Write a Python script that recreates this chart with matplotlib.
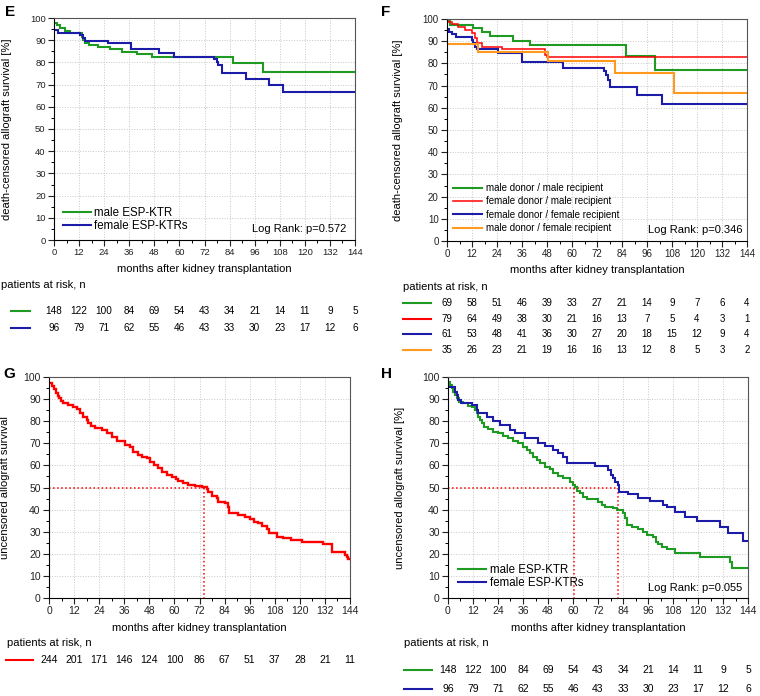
import matplotlib
matplotlib.use('Agg')

import matplotlib.pyplot as plt
import matplotlib.transforms as mtransforms
from matplotlib.lines import Line2D
from matplotlib.ticker import MultipleLocator

plt.rcParams['font.family'] = ['Liberation Sans', 'DejaVu Sans']

# ---------------- data ----------------
months = [0, 12, 24, 36, 48, 60, 72, 84, 96, 108, 120, 132, 144]

# E: death-censored, by recipient sex
e_male_t = [0, 1.3, 2.9, 5.3, 7.7, 13.2, 14, 14.8, 16.9, 21.2, 27, 32.4, 39.5, 46.7, 85.8, 99.8, 144]
e_male_s = [97.9, 96.8, 95.3, 94.3, 93.4, 91.6, 90, 88.6, 87.8, 86.8, 85.9, 84.8, 83.8, 82.6, 79.6, 75.5, 75.5]
e_female_t = [0, 2, 12.4, 14, 15, 26, 37, 50, 57.4, 76.5, 77.8, 78.6, 80.2, 92, 103, 109.7, 144]
e_female_s = [94.6, 93.3, 92.3, 91, 89.8, 88.6, 85.9, 84.4, 82.6, 81.4, 80.3, 78.8, 75.1, 72.4, 69.7, 66.8, 66.8]
e_risk_male = [148, 122, 100, 84, 69, 54, 43, 34, 21, 14, 11, 9, 5]
e_risk_female = [96, 79, 71, 62, 55, 46, 43, 33, 30, 23, 17, 12, 6]

# F: death-censored, donor/recipient sex
f_mm_t = [0, 1.4, 12.6, 17, 20.6, 31.8, 39.8, 85.8, 99.8, 144]
f_mm_s = [100, 97.3, 95.8, 94, 92.3, 90.1, 88.3, 83.5, 77, 77]
f_fm_t = [0, 0.6, 2.2, 5.4, 8.6, 11.8, 13.4, 14.6, 16.6, 26.2, 47, 47.8, 144]
f_fm_s = [100, 98.8, 97.7, 96.5, 95, 93.5, 91.3, 89, 87.5, 86.3, 84, 82.7, 82.7]
f_ff_t = [0, 1.1, 2.2, 4.3, 11.8, 12.6, 13.4, 14.2, 24.6, 35.8, 55.8, 75.5, 76.2, 77.1, 78.2, 91, 103, 144]
f_ff_s = [95.3, 94.3, 93.2, 91.7, 90.5, 89, 87.2, 86.3, 84.8, 80.8, 78, 76.6, 74.8, 72.5, 69.5, 65.8, 61.7, 61.7]
f_mf_t = [0, 14.7, 48.6, 80.6, 109, 144]
f_mf_s = [88.7, 85.3, 81.2, 75.8, 66.5, 66.5]
f_risk_mm = [69, 58, 51, 46, 39, 33, 27, 21, 14, 9, 7, 6, 4]
f_risk_fm = [79, 64, 49, 38, 30, 21, 16, 13, 7, 5, 4, 3, 1]
f_risk_ff = [61, 53, 48, 41, 36, 30, 27, 20, 18, 15, 12, 9, 4]
f_risk_mf = [35, 26, 23, 21, 19, 16, 16, 13, 12, 8, 5, 3, 2]

# G: uncensored, all recipients
g_t = [0, 1.6, 2.6, 3.2, 4.2, 4.8, 5.7, 6.9, 9.3, 11.6, 13.2, 14.8, 16.4, 18, 18.8, 20.1, 22,
       25.2, 27.6, 30, 32.4, 36.4, 38.8, 40.4, 42.8, 44.4, 46.7, 48.3, 50, 52.3, 54, 56.3,
       58.7, 60.6, 61.9, 64.3, 66.7, 69.9, 73, 75.4, 76.2, 77.8, 80.2, 81, 84.2, 85.4, 86.3,
       90.6, 93.8, 96.2, 98.3, 100.2, 101.8, 104.2, 105.4, 108.9, 112, 116, 120.9, 131,
       135.3, 141.6, 142.4, 143.2, 144]
g_s = [97.1, 95.9, 94.4, 92.9, 91.4, 90.3, 89.3, 88.1, 87.3, 86.6, 85.4, 83.6, 82, 80.5, 79,
       77.8, 77, 76, 74.5, 73, 71, 69.2, 68.2, 66.2, 64.7, 64, 63.2, 61.7, 60.2, 58.7, 57.2,
       55.7, 54.9, 53.8, 53.1, 51.9, 51.1, 50.7, 50.1, 49.2, 48.1, 46.2, 45.1, 43.6, 42.8,
       41.3, 38.6, 37.6, 36.8, 35.6, 34.5, 33.8, 32.6, 31.1, 29.3, 27.8, 27, 26.2, 25.5, 24.4,
       20.7, 19.5, 18.7, 17.5, 17.5]
g_median = 74
g_risk = [244, 201, 171, 146, 124, 100, 86, 67, 51, 37, 28, 21, 11]

# H: uncensored, by recipient sex
h_male_t = [0, 1, 1.8, 2.6, 3.4, 4.2, 5.3, 7.4, 9.4, 11.4, 13, 14.1, 14.6, 15.4, 16.2, 17.4,
            19, 21.8, 24.2, 26.6, 29, 31.4, 33.8, 36.2, 37.8, 39.4, 41, 42.6, 44.2, 46.6, 48.9,
            50.6, 53, 55.4, 58.6, 60.2, 61, 61.8, 63.4, 65, 66.6, 72.2, 73.8, 75.4, 79.4, 81,
            84.2, 85, 85.8, 88.2, 91.4, 93.8, 95.4, 98.6, 99.7, 101, 102.6, 105, 109, 121,
            135.4, 136.2, 144]
h_male_s = [97.9, 96.4, 94.9, 93.4, 91.9, 90.3, 88.8, 88.1, 86.9, 86.3, 85.1, 83.6, 82, 80.5,
            79, 77.5, 76.3, 75.3, 74.5, 73.3, 72.2, 71, 70, 68.5, 67, 65.5, 64, 62.4, 60.9,
            59.4, 58.2, 56.7, 55.2, 54.1, 52.6, 51.1, 50.1, 48.6, 47.4, 45.9, 44.7, 43.6, 42.1,
            41.3, 40.6, 39.8, 38.3, 36, 33, 32.3, 31.1, 30, 28.5, 27.5, 25.5, 24.4, 23.2, 22,
            20.5, 18.7, 16.4, 13.4, 13.4]
h_female_t = [0, 3.4, 4.2, 5, 6.2, 11.4, 13.8, 14.6, 18.6, 21.8, 25, 29.8, 32.2, 37, 43.4,
              46.6, 50.6, 53, 55.4, 57, 70.6, 77, 78.2, 79, 80.2, 81.4, 82.1, 86.6, 91.4, 97,
              103.4, 105, 109, 113.8, 119.4, 130.6, 134.6, 141.4, 144]
h_female_s = [95.3, 93.4, 91.9, 89.6, 88.4, 87.3, 85.1, 83.6, 82, 80.2, 78.3, 76, 74.5, 72.2,
              70.3, 68.8, 67, 65.5, 63.6, 60.9, 59.7, 57.9, 55.7, 54.1, 52.6, 51.1, 48.1, 47.1,
              45.1, 44.1, 42.1, 41.3, 39.1, 36.8, 35, 32.3, 29.3, 26, 26]
h_median_male = 60.7
h_median_female = 81.8
h_risk_male = e_risk_male
h_risk_female = e_risk_female

GREEN = '#1f9a23'
BLUE = '#1c1ca8'
RED = '#ff0000'
ORANGE = '#ff9a1f'

W, H = 760, 696
fig = plt.figure(figsize=(W / 100, H / 100), dpi=100)
fig.patch.set_facecolor('white')


def rect(x0, x1, ytop, ybot):
    return [x0 / W, 1 - ybot / H, (x1 - x0) / W, (ybot - ytop) / H]


def fy(ypx):
    return 1 - ypx / H


def style_axes(ax, tick_fs, ylabel, ylab_px):
    ax.set_xlim(0, 144)
    ax.set_ylim(0, 100)
    ax.xaxis.set_major_locator(MultipleLocator(12))
    ax.xaxis.set_minor_locator(MultipleLocator(6))
    ax.yaxis.set_major_locator(MultipleLocator(10))
    ax.yaxis.set_minor_locator(MultipleLocator(5))
    ax.tick_params(which='major', direction='out', length=4, width=0.8, labelsize=tick_fs,
                   colors='#222222', pad=2)
    ax.tick_params(which='minor', direction='out', length=2.5, width=0.7)
    ax.grid(True, which='major', linestyle=':', color='#c8c8c8', linewidth=0.7)
    for side in ['top', 'right']:
        ax.spines[side].set_color('#555555')
    for sp in ax.spines.values():
        sp.set_linewidth(0.8)
    ax.set_ylabel(ylabel, fontsize=8)
    # put the y label at a given pixel column
    bb = ax.get_position()
    ax.yaxis.set_label_coords((ylab_px / W - bb.x0) / bb.width, 0.5)


def km(ax, t, s, color, label=None, lw=1.5):
    ax.step(t, s, where='post', color=color, linewidth=lw, label=label, solid_joinstyle='miter')


def risk_table(ax, rows, colors, title_y, row_ys, title_x, line_x, fs):
    trans = mtransforms.blended_transform_factory(ax.transData, fig.transFigure)
    fig.text(title_x / W, fy(title_y), 'patients at risk, n', fontsize=8, va='center')
    for vals, c, y in zip(rows, colors, row_ys):
        fig.add_artist(Line2D([line_x[0] / W, line_x[1] / W], [fy(y), fy(y)],
                              transform=fig.transFigure, color=c, linewidth=1.5))
        for m, v in zip(months, vals):
            ax.text(m, fy(y), str(v), transform=trans, ha='center', va='center', fontsize=fs,
                    clip_on=False)


def xlabel_at(ax, ypx):
    bb = ax.get_position()
    fig.text(bb.x0 + bb.width / 2, fy(ypx), 'months after kidney transplantation',
             fontsize=8, ha='center', va='center')


# ---------------- E ----------------
axE = fig.add_axes(rect(54, 355, 18, 240))
km(axE, e_male_t, e_male_s, GREEN, 'male ESP-KTR')
km(axE, e_female_t, e_female_s, BLUE, 'female ESP-KTRs')
style_axes(axE, 6.8, 'death-censored allograft survival [%]', 12)
axE.legend(loc='lower left', bbox_to_anchor=(0.03, 0.035), frameon=False, fontsize=8.3,
           handlelength=2.4, handletextpad=0.3, borderpad=0, borderaxespad=0, labelspacing=0.12)
axE.text(0.97, 0.05, 'Log Rank: p=0.572', transform=axE.transAxes, ha='right', va='center',
         fontsize=8)
xlabel_at(axE, 269)
risk_table(axE, [e_risk_male, e_risk_female], [GREEN, BLUE], 285, [311, 328], 1, (11, 30), 7.2)
fig.text(10 / W, fy(12), 'E', fontsize=11, fontweight='bold', ha='center', va='center')

# ---------------- F ----------------
axF = fig.add_axes(rect(447, 747, 19, 241))
km(axF, f_mm_t, f_mm_s, GREEN, 'male donor / male recipient')
km(axF, f_fm_t, f_fm_s, RED, 'female donor / male recipient', lw=1.1)
km(axF, f_ff_t, f_ff_s, BLUE, 'female donor / female recipient')
km(axF, f_mf_t, f_mf_s, ORANGE, 'male donor / female recipient')
style_axes(axF, 7, 'death-censored allograft survival [%]', 403)
axF.legend(loc='lower left', bbox_to_anchor=(0.02, 0.035), frameon=False, fontsize=7,
           handlelength=3.0, handletextpad=0.4, borderpad=0, borderaxespad=0, labelspacing=0.35)
axF.text(0.985, 0.05, 'Log Rank: p=0.346', transform=axF.transAxes, ha='right', va='center',
         fontsize=8)
xlabel_at(axF, 270)
risk_table(axF, [f_risk_mm, f_risk_fm, f_risk_ff, f_risk_mf], [GREEN, RED, BLUE, ORANGE],
           287, [303, 319, 334, 350], 403, (403, 431), 7)
fig.text(386 / W, fy(12), 'F', fontsize=11, fontweight='bold', ha='center', va='center')

# ---------------- G ----------------
axG = fig.add_axes(rect(49, 350, 377, 598))
axG.plot([0, g_median], [50, 50], linestyle=':', color=RED, linewidth=1.1)
axG.plot([g_median, g_median], [50, 0], linestyle=':', color=RED, linewidth=1.1)
km(axG, g_t, g_s, RED, lw=1.7)
style_axes(axG, 7.5, 'uncensored allograft survival', 10)
xlabel_at(axG, 628)
risk_table(axG, [g_risk], [RED], 643, [660], 7, (6, 33), 7.5)
fig.text(9 / W, fy(374), 'G', fontsize=11, fontweight='bold', ha='center', va='center')

# ---------------- H ----------------
axH = fig.add_axes(rect(448, 748, 377, 598))
axH.plot([0, h_median_female], [50, 50], linestyle=':', color=RED, linewidth=1.1)
axH.plot([h_median_male, h_median_male], [50, 0], linestyle=':', color=RED, linewidth=1.1)
axH.plot([h_median_female, h_median_female], [50, 0], linestyle=':', color=RED, linewidth=1.1)
km(axH, h_male_t, h_male_s, GREEN, 'male ESP-KTR')
km(axH, h_female_t, h_female_s, BLUE, 'female ESP-KTRs')
style_axes(axH, 7.5, 'uncensored allograft survival [%]', 405)
axH.legend(loc='lower left', bbox_to_anchor=(0.035, 0.04), frameon=False, fontsize=8.3,
           handlelength=2.4, handletextpad=0.3, borderpad=0, borderaxespad=0, labelspacing=0.12)
axH.text(0.98, 0.045, 'Log Rank: p=0.055', transform=axH.transAxes, ha='right', va='center',
         fontsize=8)
xlabel_at(axH, 628)
risk_table(axH, [h_risk_male, h_risk_female], [GREEN, BLUE], 643, [670, 689], 404, (404, 432), 7.5)
fig.text(386 / W, fy(374), 'H', fontsize=11, fontweight='bold', ha='center', va='center')

fig.savefig('out.png', dpi=100, facecolor='white')
plt.close(fig)
